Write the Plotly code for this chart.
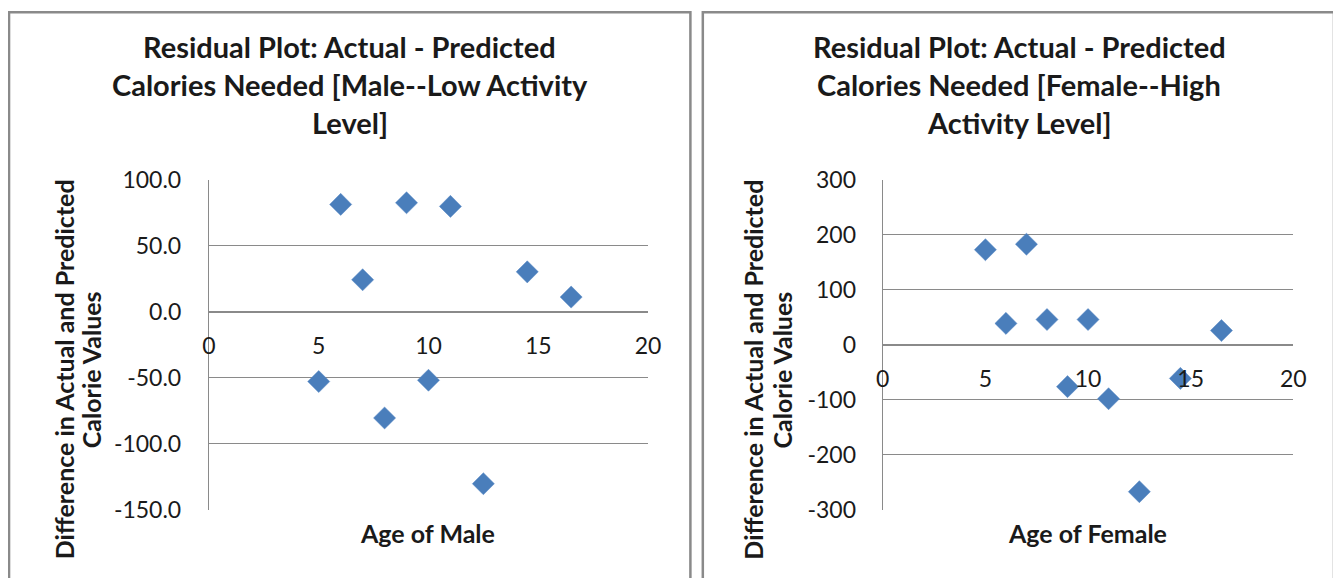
import plotly.graph_objects as go

# ---- data ----
ages_male = [5, 6, 7, 8, 9, 10, 11, 12.5, 14.5, 16.5]
resid_male = [-52.8, 81.4, 24.3, -80.4, 82.6, -51.8, 79.9, -130.2, 30.3, 11.2]
ages_female = [5, 6, 7, 8, 9, 10, 11, 12.5, 14.5, 16.5]
resid_female = [173, 39, 183, 46, -76, 46, -98, -267, -61, 26]

x_ticks = [0, 5, 10, 15, 20]
y_ticks_male = [-150, -100, -50, 0, 50, 100]
y_ticks_female = [-300, -200, -100, 0, 100, 200, 300]

title_male = ["Residual Plot: Actual - Predicted", "Calories Needed [Male--Low Activity", "Level]"]
title_female = ["Residual Plot: Actual - Predicted", "Calories Needed [Female--High", "Activity Level]"]
ytitle = ["Difference in Actual and Predicted", "Calorie Values"]
xtitle_male = "Age of Male"
xtitle_female = "Age of Female"

# ---- layout helpers (screen pixel -> paper) ----
W, H = 1341, 578
OX, OY, SW, SH = 12, 17, 1330, 560
def px(x):
    return (x - OX) / SW
def py(y):
    return 1 - (y - OY) / SH

FONT = "Lato"
MARK = "#4A7EBB"
GRID = "#8a8a8a"
TXT = "#1a1a1a"

fig = go.Figure()
for xs, ys, xa, ya in [(ages_male, resid_male, "x", "y"), (ages_female, resid_female, "x2", "y2")]:
    fig.add_trace(go.Scatter(x=xs, y=ys, mode="markers", xaxis=xa, yaxis=ya,
                             marker=dict(symbol="diamond", size=17, color=MARK,
                                         line=dict(color="#5B8BC6", width=0.5)),
                             showlegend=False))

yd = [py(512.7), py(176.7)]
xd1 = [px(207.3), px(649.3)]
xd2 = [px(885.7), px(1299)]
yr1 = [-150, 100]
yr2 = [-300, 300]

def zero_pos(yr):
    return yd[0] + (0 - yr[0]) / (yr[1] - yr[0]) * (yd[1] - yd[0])

tickfont = dict(family=FONT, size=23, color=TXT)

def xaxis(domain, yr, standoff):
    return dict(domain=domain, range=[0, 20], anchor="free", position=zero_pos(yr),
                tickvals=x_ticks, ticktext=[str(v) for v in x_ticks],
                showgrid=False, zeroline=False, showline=True, linecolor=GRID, linewidth=1.3,
                ticks="", tickfont=tickfont, ticklabelstandoff=standoff, fixedrange=True)

def yaxis(domain, yr, ticks, fmt, anchor, standoff):
    return dict(domain=domain, range=yr, anchor=anchor,
                tickvals=ticks, ticktext=[fmt(v) for v in ticks],
                showgrid=True, gridcolor=GRID, gridwidth=1.3, zeroline=False,
                showline=True, linecolor=GRID, linewidth=1.3, ticks="",
                tickfont=tickfont, ticklabelstandoff=standoff, fixedrange=True)

fig.update_layout(
    width=W, height=H, margin=dict(l=0, r=0, t=0, b=0),
    paper_bgcolor="white", plot_bgcolor="white",
    xaxis=xaxis(xd1, yr1, 13),
    yaxis=yaxis(yd, yr1, y_ticks_male, lambda v: f"{v:.1f}", "x", 22),
    xaxis2=xaxis(xd2, yr2, 13),
    yaxis2=yaxis(yd, yr2, y_ticks_female, lambda v: f"{v:d}", "x2", 21),
)

# panel borders
for x0, x1 in [(6, 692), (704.5, 1340)]:
    fig.add_shape(type="rect", xref="paper", yref="paper",
                  x0=px(x0), x1=px(x1), y0=py(6), y1=py(640),
                  line=dict(color="#8a8a8a", width=2.5), fillcolor="rgba(0,0,0,0)", layer="above")

ann = []
# chart titles
for cx, lines in [(349, title_male), (1023, title_female)]:
    for i, t in enumerate(lines):
        ann.append(dict(text=f"<b>{t}</b>", x=px(cx), y=py(41 + 38.5 * i), xref="paper", yref="paper",
                        xanchor="center", yanchor="middle", showarrow=False,
                        font=dict(family=FONT, size=29, color=TXT)))
# y axis titles
for cx in [(61, 88), (755, 784)]:
    for i, t in enumerate(ytitle):
        ann.append(dict(text=f"<b>{t}</b>", x=px(cx[i]), y=py(370), xref="paper", yref="paper",
                        xanchor="center", yanchor="middle", textangle=-90, showarrow=False,
                        font=dict(family=FONT, size=25, color=TXT)))
# x axis titles
for cx, t in [(427, xtitle_male), (1092, xtitle_female)]:
    ann.append(dict(text=f"<b>{t}</b>", x=px(cx), y=py(536), xref="paper", yref="paper",
                    xanchor="center", yanchor="middle", showarrow=False,
                    font=dict(family=FONT, size=25, color=TXT)))
fig.update_layout(annotations=ann)

fig.write_html("out.html")
